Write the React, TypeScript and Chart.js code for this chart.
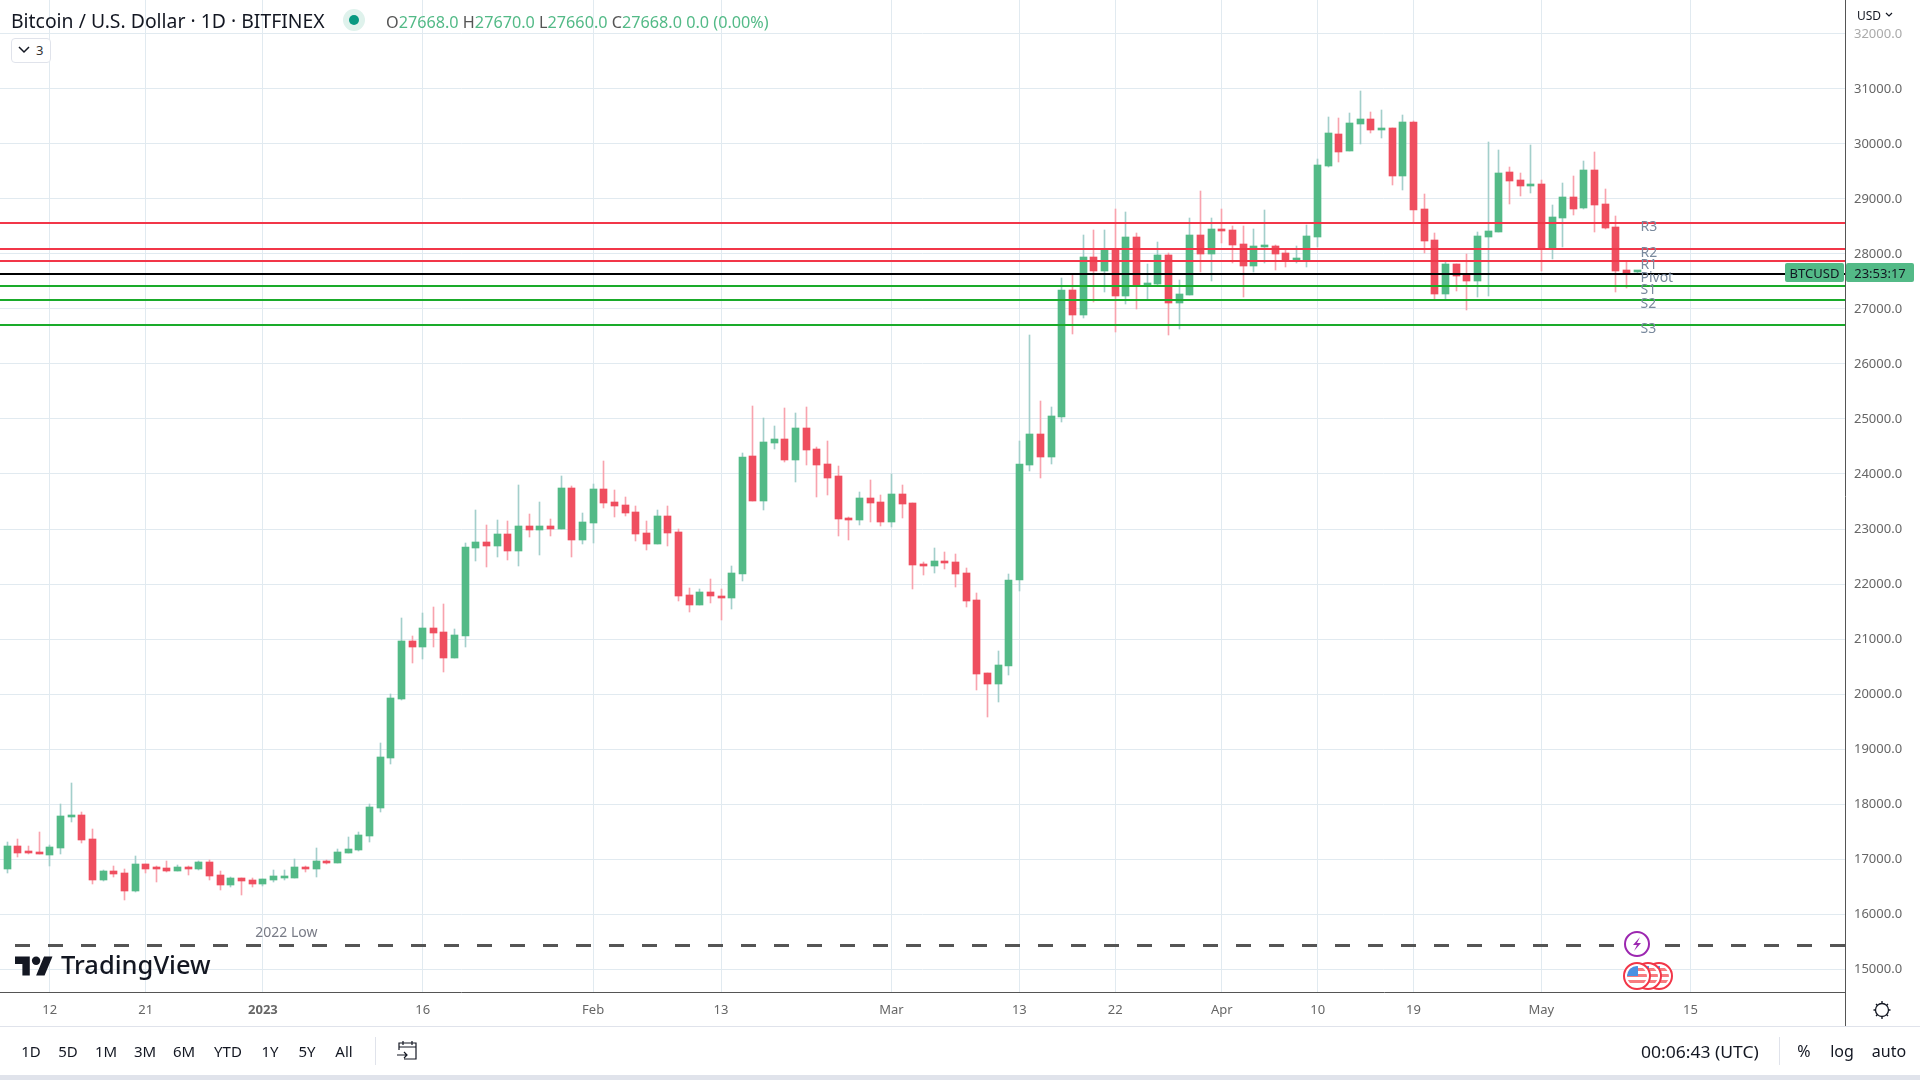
import React, { useEffect, useRef } from "react";
import Chart from "chart.js/auto";

// Candles, one per day; day index 0 is 12 Dec 2022, the first candle is index -4.
const firstDay = -4;
const opens = [
  16824,17242,17133,17133,17079,17206,17770,17806,17370,16624,
  16788,16752,16424,16915,16842,16842,16788,16861,16824,16952,
  16715,16533,16661,16624,16552,16624,16661,16661,16861,16824,
  16970,16933,17115,17170,17424,17933,18842,19915,20970,20861,
  21206,21133,20661,21061,22661,22770,22697,22915,22606,23061,
  22988,23061,23006,23752,22806,23115,23733,23497,23442,23315,
  22933,22733,23242,22952,21806,21624,21861,21788,21752,22188,
  24333,23515,24570,24642,24260,24842,24460,24188,23970,23206,
  23170,23570,23497,23133,23642,23479,22370,22333,22424,22406,
  22206,21715,20388,20188,20515,22079,24170,24733,24315,25042,
  27352,26897,27952,27697,28079,27242,28315,27442,27461,27988,
  27115,27261,28352,28006,28461,28442,28188,27788,28133,28151,
  28024,27897,27891,28315,29606,30188,29879,30370,30461,30261,
  30297,29424,30406,28824,28261,27279,27824,27624,27515,28315,
  28406,29497,29351,29242,29279,28115,28661,29042,28842,29533,
  28915,28497,27715,27668,
];
const highs = [
  17315,17370,17242,17497,17255,18006,18388,17860,17552,16806,
  16879,16824,17061,16915,16879,16970,16897,16879,16970,16988,
  16788,16679,16661,16661,16642,16806,16806,17006,16879,17206,
  16988,17188,17406,17497,18006,19115,20006,21388,21061,21479,
  21588,21642,21188,22752,23352,23079,23170,23152,23806,23279,
  23497,23188,23970,23788,23297,23824,24242,23715,23588,23424,
  23152,23352,23424,23000,21933,21915,22097,21915,22333,24388,
  25242,25024,24879,25206,25115,25224,24497,24606,24152,23224,
  23679,23897,23624,24006,23806,23479,22406,22661,22588,22552,
  22297,21842,20388,20788,22188,24606,26533,25333,25224,27570,
  27624,28352,28442,28442,28824,28770,28388,27824,28224,28024,
  27533,28661,29145,28661,28824,28515,28515,28461,28806,28170,
  28079,28151,28533,29733,30497,30479,30570,30970,30588,30624,
  30297,30533,30424,29097,28388,27861,27824,28006,28406,30042,
  29897,29588,29479,29988,29351,28897,29297,29424,29697,29861,
  29188,28697,27879,27670,
];
const lows = [
  16752,17042,17097,17097,16879,17097,17679,17297,16552,16606,
  16679,16261,16406,16752,16588,16770,16788,16715,16806,16624,
  16442,16497,16352,16497,16515,16588,16624,16661,16770,16679,
  16915,16933,17115,17152,17315,17860,18733,19897,20570,20642,
  20861,20406,20661,20861,22424,22315,22497,22442,22333,22861,
  22533,22879,23006,22497,22733,22752,23388,23224,23242,22788,
  22624,22733,22697,21697,21497,21624,21661,21352,21552,22061,
  23515,23352,24460,24224,23861,24170,23588,23624,22879,22806,
  23079,23133,23061,23042,23206,21915,22170,22206,22279,21952,
  21588,20079,19588,19861,20352,21879,24061,23933,24188,24952,
  26552,26842,27133,27315,26588,27097,27006,27188,27442,26533,
  26642,27261,27679,27515,28206,27842,27224,27679,27842,27715,
  27770,27842,27770,28133,29588,29679,29879,30006,30206,30115,
  29261,29170,28588,28024,27188,27188,27333,26988,27224,27242,
  28406,28915,29061,29115,27697,27915,28133,28715,28824,28406,
  28461,27315,27388,27660,
];
const closes = [
  17242,17115,17115,17097,17224,17788,17806,17351,16624,16788,
  16733,16424,16915,16824,16824,16788,16861,16824,16952,16697,
  16533,16661,16606,16552,16642,16697,16679,16861,16824,16970,
  16933,17133,17188,17442,17951,18860,19933,20970,20861,21206,
  21115,20661,21079,22679,22770,22697,22915,22606,23061,22988,
  23061,23006,23752,22806,23133,23733,23479,23424,23297,22915,
  22733,23242,22933,21788,21624,21861,21788,21752,22206,24315,
  23515,24588,24642,24260,24842,24442,24170,23933,23188,23170,
  23570,23479,23133,23642,23460,22352,22333,22424,22388,22188,
  21697,20370,20188,20533,22079,24188,24733,24315,25061,27352,
  26897,27952,27697,28079,27242,28315,27442,27479,27988,27115,
  27279,28352,28006,28461,28424,28170,27788,28151,28151,28006,
  27897,27915,28333,29624,30206,29861,30388,30461,30261,30297,
  29424,30406,28806,28242,27279,27824,27606,27515,28333,28424,
  29479,29333,29242,29261,28115,28679,29042,28824,29533,28897,
  28479,27697,27661,27668,
];

// Horizontal levels
const pivotNames = ["R3", "R2", "R1", "Pivot", "S1", "S2", "S3"];
const pivotLevels = [28564, 28091, 27873, 27636, 27418, 27164, 26709];
const pivotColors = ["#f23648", "#f23648", "#f23648", "#000000", "#1aab2a", "#1aab2a", "#1aab2a"];
const lowLevel = 15427;
const lowLabel = "2022 Low";

// Axes
const priceTicks = [15000,16000,17000,18000,19000,20000,21000,22000,23000,24000,25000,26000,27000,28000,29000,30000,31000,32000];
const timeTickDays = [0, 9, 20, 35, 51, 63, 79, 91, 100, 110, 119, 128, 140, 154];
const timeTickLabels = ["12", "21", "2023", "16", "Feb", "13", "Mar", "13", "22", "Apr", "10", "19", "May", "15"];
const rangeButtons = ["1D", "5D", "1M", "3M", "6M", "YTD", "1Y", "5Y", "All"];
const rangeButtonX = [31, 68, 106, 145, 184, 228, 270, 307, 344];

const FONT = '"Noto Sans", sans-serif';
const GREEN = "#53ba87";
const RED = "#ef4e5f";
const GREEN_WICK = "#a3cfcb";
const RED_WICK = "#f8a3ae";
const GRID = "#e1eaf0";
const X_MIN = -4.674;
const X_MAX = 168.5;
const Y_MIN = 14581.82;
const Y_MAX = 32618.18;

const days = opens.map((_, i) => i + firstDay);

const snapBars = {
  id: "snapBars",
  afterDatasetsUpdate(chart: any) {
    chart.data.datasets.forEach((ds: any, i: number) => {
      if (ds.type !== "bar") return;
      chart.getDatasetMeta(i).data.forEach((el: any) => {
        el.x = Math.floor(el.x) + 0.5;
        el.y = Math.round(el.y);
        el.base = Math.round(el.base);
      });
    });
  },
};

const levelLabels = {
  id: "levelLabels",
  afterDatasetsDraw(chart: any) {
    const { ctx, scales } = chart;
    ctx.save();
    ctx.font = `14px ${FONT}`;
    ctx.textBaseline = "middle";
    ctx.textAlign = "left";
    ctx.fillStyle = "#7a8a9e";
    pivotNames.forEach((name, i) => {
      ctx.fillText(name, scales.x.getPixelForValue(149.3), scales.y.getPixelForValue(pivotLevels[i]) + 4);
    });
    ctx.fillStyle = "#787b86";
    ctx.textAlign = "center";
    ctx.fillText(lowLabel, scales.x.getPixelForValue(22.2), scales.y.getPixelForValue(lowLevel) - 12);
    ctx.restore();
  },
};

function Txt(props: { x: number; y: number; size: number; color?: string; weight?: number; anchor?: string; children: any; sx?: number }) {
  const { x, y, size, color = "#131722", weight = 400, anchor = "left", children, sx = 1 } = props;
  const tx = anchor === "center" ? "-50%" : anchor === "right" ? "-100%" : "0";
  return (
    <div
      style={{
        position: "absolute",
        left: x,
        top: y,
        fontFamily: FONT,
        fontSize: size,
        fontWeight: weight,
        color,
        whiteSpace: "nowrap",
        lineHeight: 1,
        transformOrigin: "left center",
        transform: `translate(${tx}, -50%) scaleX(${sx})`,
      }}
    >
      {children}
    </div>
  );
}

function Flag({ cx, id }: { cx: number; id: string }) {
  const cy = 976;
  return (
    <g>
      <clipPath id={id}>
        <circle cx={cx} cy={cy} r={10} />
      </clipPath>
      <circle cx={cx} cy={cy} r={13} fill="#fff" stroke="#f23648" strokeWidth={2} />
      <g clipPath={`url(#${id})`}>
        <rect x={cx - 10} y={cy - 10} width={20} height={20} fill="#fff" />
        <rect x={cx - 10} y={cy - 2} width={20} height={3} fill="#f77c80" />
        <rect x={cx - 10} y={cy + 4} width={20} height={3} fill="#f77c80" />
        <rect x={cx - 10} y={cy - 8} width={20} height={3} fill="#f77c80" />
        <rect x={cx - 10} y={cy - 10} width={11} height={10} fill="#4a90e2" />
      </g>
    </g>
  );
}

export default function App() {
  const ref = useRef<HTMLCanvasElement | null>(null);

  useEffect(() => {
    const bodies = days.map((d, i) => ({ x: d, y: [opens[i], closes[i]] }));
    const wicks = days.map((d, i) => ({ x: d, y: [lows[i], highs[i]] }));
    const up = days.map((_, i) => closes[i] >= opens[i]);

    const chart = new Chart(ref.current as HTMLCanvasElement, {
      type: "bar",
      data: {
        datasets: [
          ...pivotLevels.map((lv, i) => ({
            type: "line",
            label: pivotNames[i],
            data: [{ x: X_MIN, y: lv }, { x: X_MAX, y: lv }],
            borderColor: pivotColors[i],
            borderWidth: 2,
            pointRadius: 0,
            order: 0,
          })),
          {
            type: "line",
            label: lowLabel,
            data: [{ x: X_MIN, y: lowLevel }, { x: X_MAX, y: lowLevel }],
            borderColor: "#555555",
            borderWidth: 3,
            borderDash: [15, 18],
            borderDashOffset: 18,
            pointRadius: 0,
            order: 0,
          },
          {
            type: "bar",
            label: "Body",
            data: bodies,
            backgroundColor: up.map((u) => (u ? GREEN : RED)),
            barThickness: 7,
            minBarLength: 2,
            grouped: false,
            order: 1,
          },
          {
            type: "bar",
            label: "Wick",
            data: wicks,
            backgroundColor: up.map((u) => (u ? GREEN_WICK : RED_WICK)),
            barThickness: 1,
            grouped: false,
            order: 2,
          },
        ],
      } as any,
      options: {
        responsive: false,
        animation: false,
        maintainAspectRatio: false,
        layout: { padding: 0 },
        plugins: { legend: { display: false }, tooltip: { enabled: false } },
        scales: {
          x: {
            type: "linear",
            min: X_MIN,
            max: X_MAX,
            offset: false,
            afterFit(s: any) {
              s.height = 88;
              s.paddingLeft = 0;
              s.paddingRight = 0;
            },
            afterBuildTicks(s: any) {
              s.ticks = timeTickDays.map((v) => ({ value: v }));
            },
            grid: { color: GRID, lineWidth: 1, drawTicks: false, offset: false },
            border: { display: true, color: "#555555", width: 1 },
            ticks: {
              autoSkip: false,
              maxRotation: 0,
              padding: 10,
              color: "#666666",
              font: (c: any) => ({
                family: FONT,
                size: 13,
                weight: c.tick && c.tick.value === 20 ? "bold" : "normal",
              }),
              callback: (v: any) => timeTickLabels[timeTickDays.indexOf(v)],
            },
          },
          y: {
            type: "linear",
            position: "right",
            min: Y_MIN,
            max: Y_MAX,
            afterFit(s: any) {
              s.width = 75;
              s.paddingTop = 0;
              s.paddingBottom = 0;
            },
            afterBuildTicks(s: any) {
              s.ticks = priceTicks.map((v) => ({ value: v }));
            },
            grid: { color: GRID, lineWidth: 1, drawTicks: false },
            border: { display: true, color: "#555555", width: 1 },
            ticks: {
              padding: 9,
              color: (c: any) => (c.tick && c.tick.value === 32000 ? "#aaaaaa" : "#666666"),
              font: { family: FONT, size: 13 },
              callback: (v: any) => Number(v).toFixed(1),
            },
          },
        },
      },
      plugins: [snapBars, levelLabels],
    } as any);
    return () => chart.destroy();
  }, []);

  return (
    <div style={{ position: "fixed", left: 0, top: 0, width: 1920, height: 1080, background: "#fff", overflow: "hidden" }}>
      <canvas ref={ref} width={1920} height={1080} style={{ position: "absolute", left: 0, top: 0, width: 1920, height: 1080 }} />

      {/* header */}
      <Txt x={11} y={21} size={19} sx={1.02}>Bitcoin / U.S. Dollar · 1D · BITFINEX</Txt>
      <div style={{ position: "absolute", left: 343, top: 9, width: 22, height: 22, borderRadius: 11, background: "#dff2ec" }} />
      <div style={{ position: "absolute", left: 349, top: 15, width: 10, height: 10, borderRadius: 5, background: "#089981" }} />
      <Txt x={386} y={22} size={16} color="#555" sx={1.013}>
        O<span style={{ color: GREEN }}>27668.0</span> H<span style={{ color: GREEN }}>27670.0</span> L
        <span style={{ color: GREEN }}>27660.0</span> C<span style={{ color: GREEN }}>27668.0</span>{" "}
        <span style={{ color: GREEN }}>0.0 (0.00%)</span>
      </Txt>
      <div style={{ position: "absolute", left: 11, top: 38, width: 38, height: 23, border: "1px solid #e0e3eb", borderRadius: 4, background: "#fff" }} />
      <svg style={{ position: "absolute", left: 18, top: 45 }} width={12} height={10}>
        <path d="M1 2 L6 7 L11 2" fill="none" stroke="#131722" strokeWidth={1.5} />
      </svg>
      <Txt x={36} y={50} size={13} color="#333">3</Txt>

      {/* USD selector */}
      <Txt x={1857} y={16} size={12}>USD</Txt>
      <svg style={{ position: "absolute", left: 1885, top: 12 }} width={8} height={6}>
        <path d="M1 1 L4 4 L7 1" fill="none" stroke="#131722" strokeWidth={1.2} />
      </svg>

      {/* last price tags */}
      <div style={{ position: "absolute", left: 1785, top: 263, width: 59, height: 19, borderRadius: 2, background: GREEN }} />
      <Txt x={1814.5} y={273} size={13} anchor="center">BTCUSD</Txt>
      <div style={{ position: "absolute", left: 1846, top: 263, width: 68, height: 19, borderRadius: 2, background: GREEN }} />
      <Txt x={1880} y={273} size={13} anchor="center">23:53:17</Txt>

      {/* logo */}
      <svg style={{ position: "absolute", left: 15, top: 955 }} width={38} height={22} viewBox="0 4 36 18">
        <path d="M14 22H7V11H0V4h14v18zM28 22h-8l7.5-18h8L28 22z" fill="#131722" />
        <circle cx="20" cy="8" r="4" fill="#131722" />
      </svg>
      <Txt x={61} y={964} size={25} weight={500} sx={1.02}>TradingView</Txt>

      {/* event markers */}
      <svg style={{ position: "absolute", left: 0, top: 0, pointerEvents: "none" }} width={1920} height={1080}>
        <circle cx={1637} cy={944} r={12} fill="#fff" stroke="#9c27b0" strokeWidth={2} />
        <path d="M1640 937 L1633 945 L1637 945 L1634 951 L1641 943 L1637 943 Z" fill="#9c27b0" />
        <Flag cx={1659} id="f3" />
        <Flag cx={1648} id="f2" />
        <Flag cx={1637} id="f1" />
        {/* gear */}
        <circle cx={1882} cy={1010} r={6.5} fill="none" stroke="#131722" strokeWidth={1.3} />
        <path d="M1882 1001v2.5M1882 1016.5v2.5M1873.5 1010h2.5M1888 1010h2.5M1876 1004l1.7 1.7M1886.3 1014.3l1.7 1.7M1888 1004l-1.7 1.7M1877.7 1014.3l-1.7 1.7" stroke="#131722" strokeWidth={1.3} />
        {/* calendar */}
        <path d="M399 1050v-7h17v16h-12M399 1047h17M403 1041v4M412 1041v4M397 1055h10M404 1052l3 3-3 3" fill="none" stroke="#131722" strokeWidth={1.2} />
      </svg>

      {/* frame and toolbar */}
      <div style={{ position: "absolute", left: 1845, top: 992, width: 1, height: 34, background: "#555" }} />
      <div style={{ position: "absolute", left: 0, top: 1026, width: 1920, height: 1, background: "#e0e3eb" }} />
      <div style={{ position: "absolute", left: 375, top: 1037, width: 1, height: 28, background: "#e0e3eb" }} />
      <div style={{ position: "absolute", left: 1779, top: 1037, width: 1, height: 28, background: "#e0e3eb" }} />
      <div style={{ position: "absolute", left: 0, top: 1075, width: 1920, height: 5, background: "#e0e3eb" }} />
      {rangeButtons.map((b, i) => (
        <Txt key={b} x={rangeButtonX[i]} y={1051} size={15} anchor="center">{b}</Txt>
      ))}
      <Txt x={1641} y={1051} size={17} sx={1.03}>00:06:43 (UTC)</Txt>
      <Txt x={1804} y={1051} size={16} anchor="center">%</Txt>
      <Txt x={1842} y={1051} size={16} anchor="center">log</Txt>
      <Txt x={1889} y={1051} size={16} anchor="center">auto</Txt>
    </div>
  );
}
